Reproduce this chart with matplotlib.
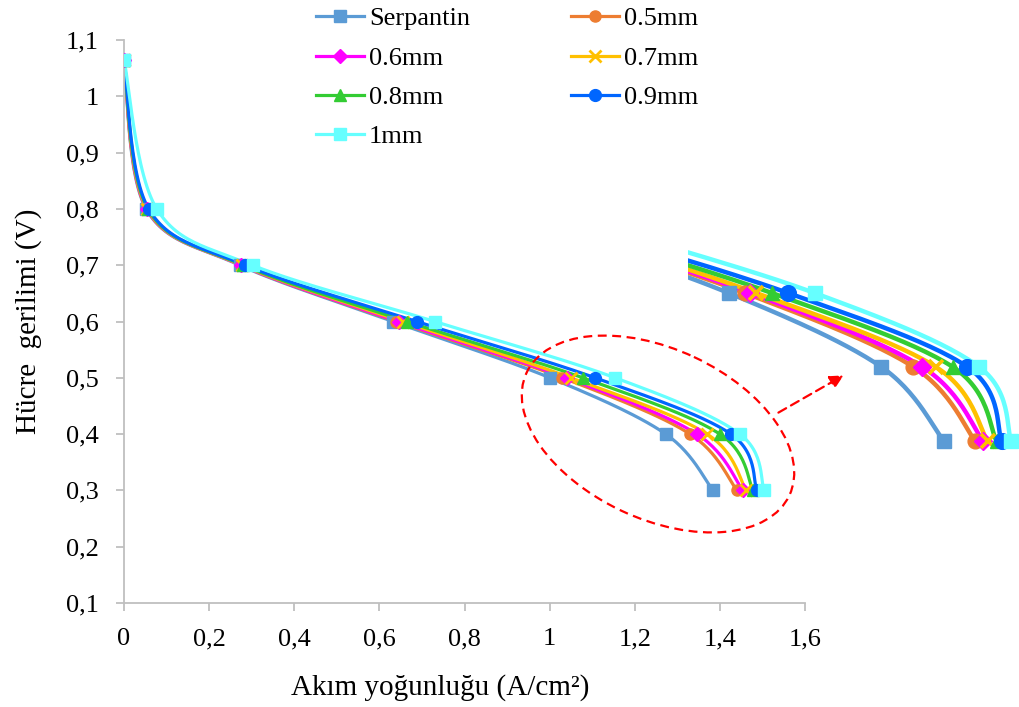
import numpy as np
import matplotlib
matplotlib.use('Agg')
import matplotlib.pyplot as plt
from matplotlib.patches import Ellipse, FancyArrowPatch
from matplotlib.ticker import FuncFormatter
from matplotlib import font_manager as fm

FPATH = fm.findfont(fm.FontProperties(family='Liberation Serif'))
fp = fm.FontProperties(fname=FPATH, size=19)
fp_lab = fm.FontProperties(fname=FPATH, size=21)

# cell voltage levels (V), same for every series
voltage = [1.065, 0.8, 0.7, 0.6, 0.5, 0.4, 0.3]

# current density (A/cm2) for each channel design
names = ['Serpantin', '0.5mm', '0.6mm', '0.7mm', '0.8mm', '0.9mm', '1mm']
serpantin = [0, 0.052, 0.272, 0.632, 1.001, 1.273, 1.384]
mm05 = [0, 0.053, 0.275, 0.640, 1.030, 1.330, 1.440]
mm06 = [0, 0.054, 0.276, 0.645, 1.040, 1.346, 1.454]
mm07 = [0, 0.055, 0.278, 0.655, 1.050, 1.370, 1.462]
mm08 = [0, 0.056, 0.280, 0.665, 1.078, 1.400, 1.478]
mm09 = [0, 0.058, 0.285, 0.688, 1.107, 1.426, 1.487]
mm10 = [0, 0.077, 0.302, 0.730, 1.154, 1.447, 1.504]
series = [serpantin, mm05, mm06, mm07, mm08, mm09, mm10]

colors = ['#5B9BD5', '#ED7D31', '#FF00FF', '#FFC000', '#33CC33', '#0066FF', '#66FFFF']
markers = ['s', 'o', 'D', 'x', '^', 'o', 's']
msizes = [8, 8, 7, 8, 8, 8.5, 8]


def smooth(x, y, sx, sy, n=30):
    # excel-like smoothed line (bezier through the points), done in screen scale
    p = np.column_stack([np.asarray(x) * sx, np.asarray(y) * sy])
    p = np.vstack([p[0], p, p[-1]])
    out = []
    for i in range(1, len(p) - 2):
        p0, p1, p2, p3 = p[i - 1], p[i], p[i + 1], p[i + 2]
        c1 = p1 + (p2 - p0) / 6
        c2 = p2 - (p3 - p1) / 6
        t = np.linspace(0, 1, n)[:, None]
        b = (1 - t) ** 3 * p1 + 3 * (1 - t) ** 2 * t * c1 + 3 * (1 - t) * t ** 2 * c2 + t ** 3 * p2
        out.append(b)
    b = np.vstack(out)
    return b[:, 0] / sx, b[:, 1] / sy


W, H = 1020, 707
fig = plt.figure(figsize=(W / 100, H / 100), dpi=100)
ax = fig.add_axes([124 / W, 1 - 603 / H, (805 - 124) / W, (603 - 40) / H])

handles = []
for s, c, m, ms, nm in zip(series, colors, markers, msizes, names):
    xs, ys = smooth(s, voltage, 425.6, 563)
    ax.plot(xs, ys, color=c, lw=2.3, zorder=2)
    ax.plot(s, voltage, ls='none', marker=m, ms=ms, color=c, mec=c, mew=2 if m == 'x' else 1, zorder=3)
    h, = ax.plot([], [], color=c, lw=2.3, marker=m, ms=ms, mec=c, mew=2 if m == 'x' else 1, label=nm)
    handles.append(h)

ax.set_xlim(0, 1.6)
ax.set_ylim(0.1, 1.1)
ax.set_xticks(np.arange(0, 1.61, 0.2))
ax.set_yticks(np.arange(0.1, 1.11, 0.1))
fmt = FuncFormatter(lambda v, p: ('%g' % round(v, 2)).replace('.', ','))
ax.xaxis.set_major_formatter(fmt)
ax.yaxis.set_major_formatter(fmt)
for sp in ['top', 'right']:
    ax.spines[sp].set_visible(False)
for sp in ['left', 'bottom']:
    ax.spines[sp].set_color('#BFBFBF')
    ax.spines[sp].set_linewidth(1.3)
ax.tick_params(axis='both', direction='out', length=6, width=1.3, color='#BFBFBF',
               labelcolor='black')
ax.tick_params(axis='x', pad=12)
ax.tick_params(axis='y', pad=12)
for lab in ax.get_xticklabels() + ax.get_yticklabels():
    lab.set_fontproperties(fp)

ax.set_xlabel('Akım yoğunluğu (A/cm²)', fontproperties=fp_lab, labelpad=17)
ax.xaxis.label.set_x(0.464)
ax.set_ylabel('Hücre  gerilimi (V)', fontproperties=fp_lab, labelpad=17)

# excel fills the legend row by row
order = [0, 2, 4, 6, 1, 3, 5]
ax.legend([handles[i] for i in order], [names[i] for i in order], ncol=2, loc='upper left',
          bbox_to_anchor=(316 / W, 1 - 7 / H), bbox_transform=fig.transFigure, frameon=False,
          prop=fp, handlelength=1.8, handletextpad=0.2, columnspacing=3.85,
          labelspacing=0.6, borderaxespad=0, borderpad=0)

# zoomed copy of the knee region
ins = fig.add_axes([688 / W, 1 - 456 / H, (W - 688) / W, (456 - 240) / H])
ins.set_facecolor('none')
for s, c, m, ms in zip(series, colors, markers, msizes):
    xs, ys = smooth(s, voltage, 425.6, 563)
    ins.plot(xs, ys, color=c, lw=3.2, zorder=2)
    ins.plot(s, voltage, ls='none', marker=m, ms=ms * 1.33, color=c, mec=c,
             mew=2.6 if m == 'x' else 1, zorder=3)
ins.set_xlim(0.9288, 1.5196)
ins.set_ylim(0.2797, 0.5716)
ins.axis('off')

# ellipse and arrow in pixel coordinates
ov = fig.add_axes([0, 0, 1, 1])
ov.set_xlim(0, W)
ov.set_ylim(H, 0)
ov.axis('off')
ov.add_patch(Ellipse((658, 434), 290, 170, angle=25, fill=False, ec='#FF0000',
                     lw=1.6, ls=(0, (4, 2.5))))
ov.add_patch(FancyArrowPatch((776, 414), (846, 374), arrowstyle='-|>', mutation_scale=20,
                             color='#FF0000', lw=1.6, ls=(0, (4, 2.5))))

fig.savefig('out.png', dpi=100)
